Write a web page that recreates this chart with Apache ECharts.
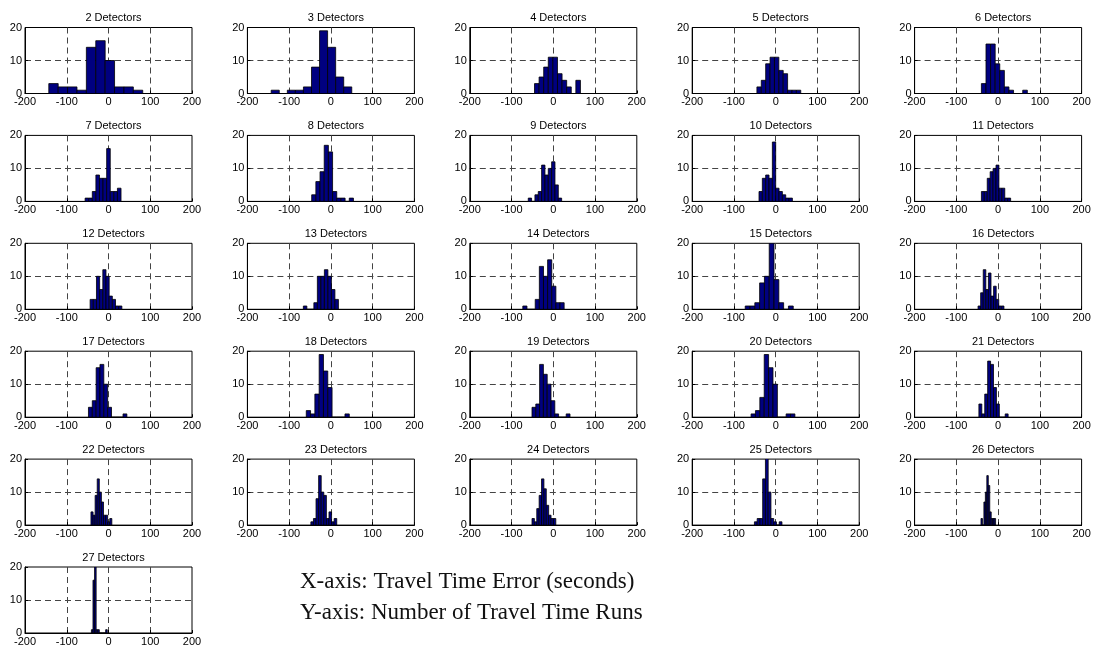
<!DOCTYPE html>
<html><head><meta charset="utf-8">
<script src="https://cdn.jsdelivr.net/npm/echarts@6/dist/echarts.min.js"></script>
<style>html,body{margin:0;padding:0;background:#fff}#c{width:1104px;height:653px}</style>
</head><body><div id="c"></div>
<script>
const detectorCounts = [2,3,4,5,6,7,8,9,10,11,12,13,14,15,16,17,18,19,20,21,22,23,24,25,26,27];
const xTicks = [-200,-100,0,100,200];
const yTicks = [0,10,20];
// histogram range (seconds) for each panel, 10 equal bins between low and high
const binLow  = [-143,-143,-45,-45,-40,-56,-46,-60,-40,-40,-44,-66,-73,-73,-48,-48,-59,-51,-59,-46,-42,-48,-51,-51,-41,-41];
const binHigh = [  82,  50, 65, 60, 70, 30, 54, 20, 40, 30, 32, 18, 26, 42, 14, 44, 44, 40, 46, 24,  8, 14,  6, 15, -6, -3];
const counts02 = [3,2,2,1,14,16,10,2,2,1];
const counts03 = [1,0,1,1,2,8,19,14,5,2];
const counts04 = [3,5,8,11,11,6,4,2,0,4];
const counts05 = [2,4,9,11,11,7,6,1,1,1];
const counts06 = [3,15,15,9,7,2,1,0,0,1];
const counts07 = [1,1,3,8,7,7,16,3,3,4];
const counts08 = [2,6,9,17,15,3,1,1,0,1];
const counts09 = [1,0,2,3,11,8,10,12,5,1];
const counts10 = [3,7,8,7,18,4,3,2,1,1];
const counts11 = [3,3,7,9,10,11,4,4,1,1];
const counts12 = [3,3,10,6,12,10,4,3,1,1];
const counts13 = [1,0,0,2,10,10,12,10,6,3];
const counts14 = [1,0,0,3,13,10,15,7,2,2];
const counts15 = [1,1,2,8,10,20,9,2,0,1];
const counts16 = [1,5,12,6,11,4,7,3,1,1];
const counts17 = [3,5,15,16,10,3,0,0,0,1];
const counts18 = [2,1,7,19,14,9,0,0,0,1];
const counts19 = [3,4,16,13,10,5,1,0,0,1];
const counts20 = [1,2,6,19,15,10,0,0,1,1];
const counts21 = [4,1,7,17,16,9,4,0,0,1];
const counts22 = [4,3,9,14,10,7,3,3,1,2];
const counts23 = [1,2,8,15,10,9,2,4,1,2];
const counts24 = [2,1,5,9,14,11,6,3,2,2];
const counts25 = [1,2,2,14,21,10,2,1,0,1];
const counts26 = [2,0,7,10,15,12,4,2,2,2];
const counts27 = [1,16,24,1,1,0,0,0,0,1];
const allCounts = [counts02,counts03,counts04,counts05,counts06,counts07,counts08,counts09,counts10,counts11,counts12,counts13,counts14,counts15,counts16,counts17,counts18,counts19,counts20,counts21,counts22,counts23,counts24,counts25,counts26,counts27];
const noteLines = ['X-axis: Travel Time Error (seconds)','Y-axis: Number of Travel Time Runs'];

const chart = echarts.init(document.getElementById('c'), null, {renderer:'canvas'});
const grids=[], xAxes=[], yAxes=[], series=[], titles=[];
const labelFont = {fontSize:11, color:'#000', fontFamily:'"Liberation Sans", Arial, sans-serif'};
const gridLine = {show:true, showMinLine:false, showMaxLine:false, lineStyle:{color:'#444', type:[6,4], width:1}};
detectorCounts.forEach((n,i)=>{
  const col=i%5, row=Math.floor(i/5);
  const left=25+col*222.4, top=27.5+row*107.9, w=167, h=66;
  grids.push({left:left, top:top, width:w, height:h, show:true, borderColor:'#000', borderWidth:1, backgroundColor:'#fff'});
  xAxes.push({type:'value', gridIndex:i, min:xTicks[0], max:xTicks[xTicks.length-1], interval:xTicks[1]-xTicks[0],
    axisLine:{show:true, onZero:false, lineStyle:{color:'#000'}},
    axisTick:{show:true, inside:true, length:3, lineStyle:{color:'#000'}},
    axisLabel:Object.assign({margin:3, showMinLabel:true, showMaxLabel:true}, labelFont),
    splitLine:gridLine});
  yAxes.push({type:'value', gridIndex:i, min:yTicks[0], max:yTicks[yTicks.length-1], interval:yTicks[1]-yTicks[0],
    axisLine:{show:true, onZero:false, lineStyle:{color:'#000'}},
    axisTick:{show:true, inside:true, length:3, lineStyle:{color:'#000'}},
    axisLabel:Object.assign({margin:3, showMinLabel:true, showMaxLabel:true}, labelFont),
    splitLine:gridLine});
  const lo=binLow[i], hi=binHigh[i], c=allCounts[i], bw=(hi-lo)/c.length;
  const data=c.map((v,k)=>[lo+k*bw, lo+(k+1)*bw, v]);
  series.push({type:'custom', xAxisIndex:i, yAxisIndex:i, clip:true, silent:true, data:data,
    encode:{x:[0,1], y:2},
    renderItem:function(params, api){
      const p0=api.coord([api.value(0), api.value(2)]);
      const p1=api.coord([api.value(1), 0]);
      return {type:'rect', shape:{x:p0[0], y:p0[1], width:p1[0]-p0[0], height:p1[1]-p0[1]},
        style:{fill:'#000080', stroke:'#000', lineWidth:0.8}};
    }});
  titles.push({text:n+' Detectors', left:left+w/2, top:top-20, textAlign:'center',
    textStyle:{fontSize:11, fontWeight:'normal', color:'#000', fontFamily:'"Liberation Sans", Arial, sans-serif'}});
});
chart.setOption({
  animation:false,
  backgroundColor:'#fff',
  title:titles, grid:grids, xAxis:xAxes, yAxis:yAxes, series:series,
  graphic:noteLines.map((t,k)=>({type:'text', left:300, top:570+k*31,
    style:{text:t, font:'23px "Liberation Serif", "Times New Roman", serif', fill:'#111'}}))
});
</script></body></html>
